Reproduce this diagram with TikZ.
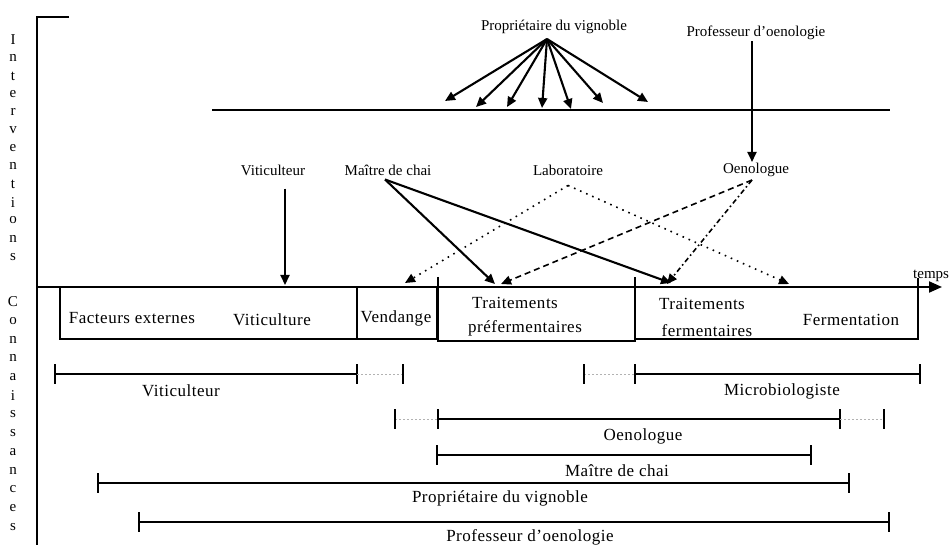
\documentclass[tikz,border=0pt]{standalone}
\usepackage{fontspec}
\setmainfont{Liberation Serif}
\usetikzlibrary{arrows.meta}

\tikzset{
  toplab/.style={font=\fontsize{15}{17}\selectfont, inner sep=1pt},
  botlab/.style={font=\fontsize{17}{19}\selectfont\addfontfeature{LetterSpace=3}, inner sep=1pt},
  vlet/.style={font=\fontsize{15}{17}\selectfont, inner sep=0pt},
  headtip/.style={-{Triangle[length=10pt,width=9pt]}},
  solidarrow/.style={headtip, line width=2.1pt},
  dotarrow/.style={headtip, line width=1.6pt, dash pattern=on 1.6pt off 5pt},
  dasharrow/.style={headtip, line width=1.6pt, dash pattern=on 6pt off 4pt},
  dashdotarrow/.style={headtip, line width=1.6pt, dash pattern=on 5pt off 3pt on 1.6pt off 3pt},
  axisline/.style={line width=2.1pt},
  boxline/.style={line width=1.9pt},
  barline/.style={line width=1.7pt},
  tickline/.style={line width=2pt},
  linkline/.style={line width=0.7pt, gray!60, dash pattern=on 2pt off 2pt},
}

\begin{document}
\begin{tikzpicture}[x=1pt, y=-1pt]
\useasboundingbox (0,0) rectangle (950,545);

% axes
\draw[axisline] (69,17) -- (37,17) -- (37,545);
\draw[axisline, -{Triangle[length=13pt,width=11pt]}] (37,287) -- (942,287);
\node[toplab, anchor=west] (temps) at (912,276) {temps};

% vertical titles
\foreach \c [count=\i from 0] in {I,n,t,e,r,v,e,n,t,i,o,n,s}
  \node[vlet] (iv\i) at (13,40+18.05*\i) {\c};
\foreach \c [count=\i from 0] in {C,o,n,n,a,i,s,s,a,n,c,e,s}
  \node[vlet] (cn\i) at (13,302+18.75*\i) {\c};

% upper line
\draw[axisline] (212,110) -- (890,110);

% actors
\node[toplab] (prop) at (554,27) {Propriétaire du vignoble};
\node[toplab] (prof) at (756,33) {Professeur d’oenologie};
\node[toplab] (vit) at (273,170) {Viticulteur};
\node[toplab] (mdc) at (388,170) {Maître de chai};
\node[toplab] (labo) at (568,170) {Laboratoire};
\node[toplab] (oeno) at (756,170) {Oenologue};

% arrow ends
\coordinate (p1) at (445,101);
\coordinate (p2) at (476,107);
\coordinate (p3) at (507,107);
\coordinate (p4) at (542,108);
\coordinate (p5) at (571,109);
\coordinate (p6) at (603,103);
\coordinate (p7) at (648,102);
\coordinate (vitend) at (285,285);
\coordinate (mdc1) at (495,284);
\coordinate (mdc2) at (671,283);
\coordinate (lab1) at (405,283);
\coordinate (lab2) at (789,284);
\coordinate (oen1) at (501,284);
\coordinate (oen2) at (667,284);

\foreach \t in {p1,p2,p3,p4,p5,p6,p7}
  \draw[solidarrow] ([xshift=-7pt,yshift=-4pt]prop.south) -- (\t);
\draw[solidarrow] ([xshift=-4pt]prof.south) -- ([xshift=-4pt]oeno.north);
\draw[solidarrow] ([xshift=12pt,yshift=-12pt]vit.south) -- (vitend);
\draw[solidarrow] ([xshift=-3pt,yshift=-3pt]mdc.south) -- (mdc1);
\draw[solidarrow] ([xshift=-3pt,yshift=-3pt]mdc.south) -- (mdc2);
\draw[dotarrow] ([yshift=-9pt]labo.south) -- (lab1);
\draw[dotarrow] ([yshift=-9pt]labo.south) -- (lab2);
\draw[dasharrow] ([xshift=-4pt,yshift=-2pt]oeno.south) -- (oen1);
\draw[dashdotarrow] ([xshift=-4pt,yshift=-2pt]oeno.south) -- (oen2);

% stages
\draw[boxline] (60,287) rectangle (357,339);
\draw[boxline] (357,287) rectangle (437,339);
\draw[boxline] (438,277) -- (438,341) -- (635,341) -- (635,277);
\draw[boxline] (635,339) -- (918,339) -- (918,278);
\node[botlab] (fe) at (132,318) {Facteurs externes};
\node[botlab] (viti) at (272,320) {Viticulture};
\node[botlab] (vend) at (396,318) {Vendange};
\node[botlab] (tp1) at (515,303) {Traitements};
\node[botlab] (tp2) at (525,328) {préfermentaires};
\node[botlab] (tf1) at (702,304) {Traitements};
\node[botlab] (tf2) at (707,331) {fermentaires};
\node[botlab] (ferm) at (851,320) {Fermentation};

% knowledge ranges
\foreach \y/\a/\b in {374/55/357, 374/635/920, 419/438/840, 455/437/811, 483/98/849, 522/139/889}{
  \draw[barline] (\a,\y) -- (\b,\y);
  \draw[tickline] (\a,\y-10) -- (\a,\y+10);
  \draw[tickline] (\b,\y-10) -- (\b,\y+10);
}
\foreach \y/\a/\b in {374/357/403, 374/584/635, 419/395/438, 419/840/884}{
  \draw[linkline] (\a,\y) -- (\b,\y);
}
\foreach \y/\a in {374/403, 374/584, 419/395, 419/884}
  \draw[tickline] (\a,\y-10) -- (\a,\y+10);

\node[botlab] (kvit) at (181,391) {Viticulteur};
\node[botlab] (kmic) at (782,391) {Microbiologiste};
\node[botlab] (koen) at (643,436) {Oenologue};
\node[botlab] (kmdc) at (617,471) {Maître de chai};
\node[botlab] (kprop) at (500,498) {Propriétaire du vignoble};
\node[botlab] (kprof) at (530,537) {Professeur d’oenologie};
\end{tikzpicture}
\end{document}
